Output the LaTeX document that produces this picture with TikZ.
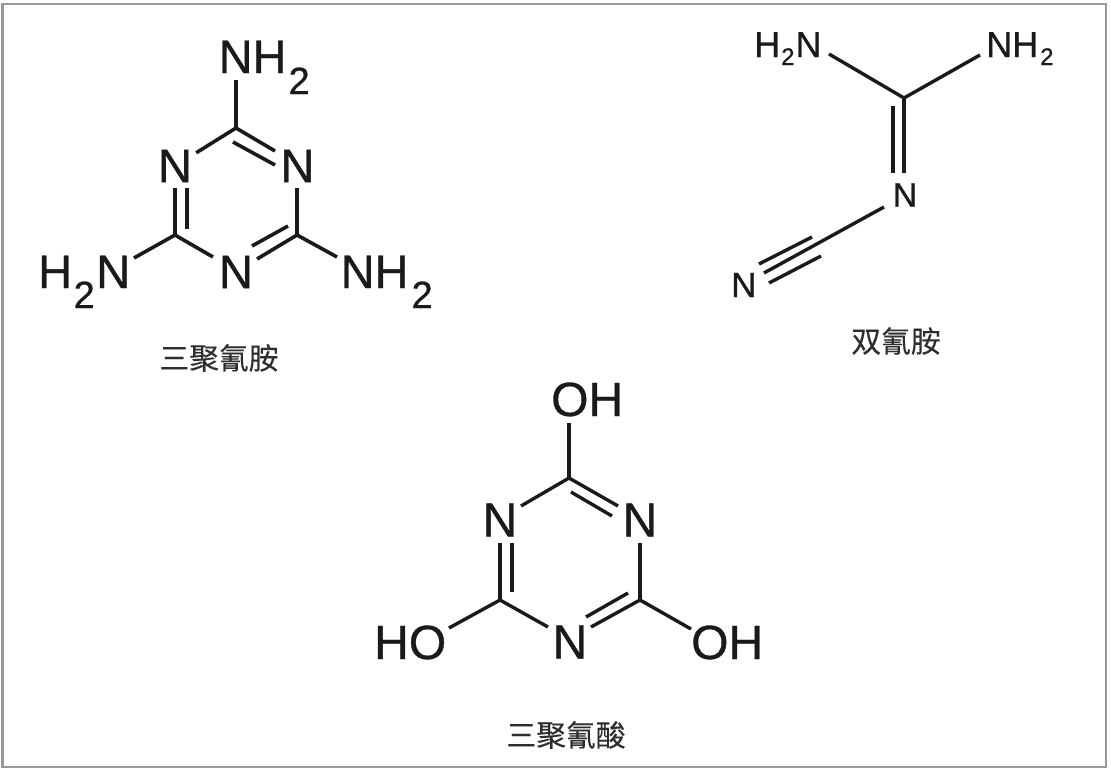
\documentclass[tikz,border=0pt]{standalone}
\usepackage{fontspec}
\setmainfont[FakeBold=0.7]{Liberation Sans}
\newfontfamily\cjkfont[FakeBold=0.25]{Noto Sans CJK SC}
\newcommand{\subdigit}[3]{\kern#3pt\raisebox{-#2pt}{\fontsize{#1}{#1}\selectfont 2}\kern#3pt}
\tikzset{
  bond/.style={line width=#1, draw=bondcol, line cap=butt, line join=miter},
  bond/.default=3.6pt,
  atom/.style={inner sep=0pt, text=bondcol, font=\fontsize{#1}{#1}\selectfont},
  ringN/.style={atom=47, minimum width=42pt, minimum height=44pt},
  ringO/.style={atom=48, minimum width=42pt, minimum height=46pt},
  midN/.style={atom=34, minimum width=40pt, minimum height=24pt},
  group/.style={atom=#1, anchor=base west},
  caption/.style={inner sep=0pt, text=capcol, font=\cjkfont\fontsize{29.8}{31}\selectfont}
}
\definecolor{bondcol}{HTML}{1A1A1A}
\definecolor{capcol}{HTML}{2E2E2E}
\definecolor{framecol}{HTML}{999999}
\begin{document}
\begin{tikzpicture}[x=1pt,y=-1pt]
\useasboundingbox (0,0) rectangle (1111,771);
\draw[draw=framecol, line width=2.5pt, fill=white] (2.5,4) rectangle (1106,767);

% --- melamine ---
\coordinate (mT) at (236,128);
\coordinate (mL) at (175,235);
\coordinate (mR) at (297,235);
\node[ringN] (mN1) at (175,166) {N};
\node[ringN] (mN2) at (297.5,166) {N};
\node[ringN] (mN3) at (236,272) {N};
\node[group=47] (mA1) at (218.5,73) {NH\subdigit{38}{21}{2}};
\node[group=47] (mA2) at (38,288) {H\subdigit{38}{20}{1.5}N};
\node[group=47] (mA3) at (340.5,288) {NH\subdigit{38}{20}{3}};
\coordinate (mA1e) at (236,80);
\coordinate (mA2e) at (134,258);
\coordinate (mA3e) at (337,257);
\draw[bond] (mA1e) -- (mT);
\draw[bond] (mN1) -- (mT);
\draw[bond] (mT) -- (275,151);
\draw[bond] (233,142) -- (275,165);
\draw[bond] (175,188) -- (mL);
\draw[bond] (187,188) -- (187,229);
\draw[bond] (297,188) -- (mR);
\draw[bond] (mL) -- (213,257);
\draw[bond] (mR) -- (257,259);
\draw[bond] (252,246) -- (288,226);
\draw[bond] (mL) -- (mA2e);
\draw[bond] (mR) -- (mA3e);
\node[caption] (mCap) at (219,358) {三聚氰胺};

% --- dicyandiamide ---
\coordinate (dC) at (904,98);
\coordinate (dA1e) at (829,54);
\coordinate (dA2e) at (980,55);
\node[group=36] (dA1) at (754,57) {H\subdigit{24}{8}{1}N};
\node[group=36] (dA2) at (986,57) {NH\subdigit{24}{8}{2}};
\node[midN] (dN) at (905,195) {N};
\node[group=35] (dN2) at (731,297) {N};
\draw[bond=3.4pt] (dA1e) -- (dC);
\draw[bond=3.4pt] (dA2e) -- (dC);
\draw[bond=3.4pt] (dC) -- (904,173);
\draw[bond=3.4pt] (893,106) -- (893,173);
\draw[bond=3.4pt] (884,207) -- (764,273);
\draw[bond=3.4pt] (812,237) -- (759,264);
\draw[bond=3.4pt] (821,256) -- (769,283);
\node[caption] (dCap) at (896,341) {双氰胺};

% --- cyanuric acid ---
\coordinate (cT) at (569,478);
\coordinate (cL) at (500,600);
\coordinate (cR) at (640,600);
\node[ringO] (cN1) at (500,520) {N};
\node[ringO] (cN2) at (640,520) {N};
\node[ringO] (cN3) at (570,642) {N};
\node[group=48] (cO1) at (551,416) {OH};
\node[group=48] (cO2) at (374,659) {HO};
\node[group=48] (cO3) at (691,659) {OH};
\coordinate (cO1e) at (569,423);
\coordinate (cO2e) at (449,628);
\coordinate (cO3e) at (691,629);
\draw[bond=3.4pt] (cO1e) -- (cT);
\draw[bond=3.4pt] (cT) -- (521,506);
\draw[bond=3.4pt] (cT) -- (618,506);
\draw[bond=3.4pt] (571,492) -- (612,516);
\draw[bond=3.4pt] (500,543) -- (cL);
\draw[bond=3.4pt] (512,543) -- (512,592);
\draw[bond=3.4pt] (640,543) -- (cR);
\draw[bond=3.4pt] (cL) -- (548,627);
\draw[bond=3.4pt] (cR) -- (591,627);
\draw[bond=3.4pt] (586,617) -- (628,593);
\draw[bond=3.4pt] (cL) -- (cO2e);
\draw[bond=3.4pt] (cR) -- (cO3e);
\node[caption] (cCap) at (566,735) {三聚氰酸};
\end{tikzpicture}
\end{document}
